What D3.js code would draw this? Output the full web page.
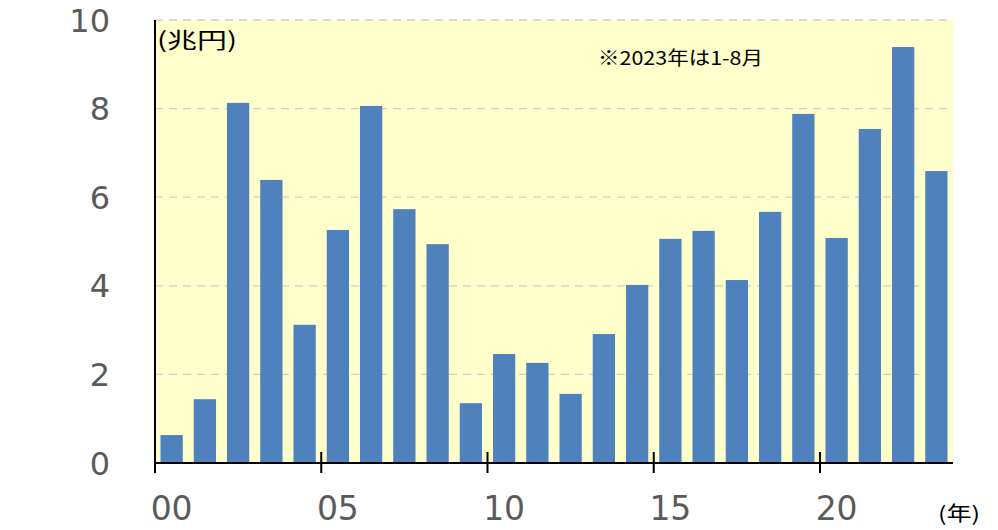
<!DOCTYPE html>
<html><head><meta charset="utf-8">
<script src="https://cdn.jsdelivr.net/npm/d3@7"></script>
<style>body{margin:0;background:#fff;}svg{display:block;}</style>
</head><body>
<svg id="c" width="998" height="530"></svg>
<script>
const years = ["00","01","02","03","04","05","06","07","08","09","10","11","12","13","14","15","16","17","18","19","20","21","22","23"];
const values = [0.63,1.44,8.13,6.39,3.12,5.26,8.06,5.73,4.94,1.35,2.46,2.26,1.56,2.91,4.02,5.06,5.24,4.13,5.67,7.88,5.08,7.54,9.39,6.59];
const yTicks = [0,2,4,6,8,10];
const xTickLabels = ["00","05","10","15","20"];
const unitLabel = "(兆円)";
const noteLabel = "※2023年は1-8月";
const xUnitLabel = "(年)";

const svg = d3.select("#c");
const L = 155, R = 953, T = 20, B = 463;
const x = d3.scaleBand().domain(years).range([L, R]).paddingInner(0.33).paddingOuter(0.165);
const y = d3.scaleLinear().domain([0, 10]).range([B, T]);
const step = x.step();

// background
svg.append("rect").attr("x", L).attr("y", T).attr("width", R - L).attr("height", B - T).attr("fill", "#ffffcc");

// gridlines
svg.append("g").selectAll("line").data(yTicks.filter(d => d > 0)).join("line")
  .attr("x1", L).attr("x2", R).attr("y1", d => y(d)).attr("y2", d => y(d))
  .attr("stroke", "#d6cccc").attr("stroke-width", 1.3).attr("stroke-dasharray", "8,6");

// bars
svg.append("g").selectAll("rect").data(values).join("rect")
  .attr("x", (d, i) => x(years[i])).attr("width", x.bandwidth())
  .attr("y", d => y(d)).attr("height", d => B - y(d))
  .attr("fill", "#4f81bd");

// y labels
svg.append("g").selectAll("text").data(yTicks).join("text")
  .attr("x", 110).attr("y", d => y(d)).attr("dy", "0.36em")
  .attr("text-anchor", "end").attr("font-family", "DejaVu Sans, Verdana, sans-serif")
  .attr("font-size", 32).attr("fill", "#5a5a5a").text(d => d);

// axes lines
svg.append("line").attr("x1", L).attr("x2", L).attr("y1", T).attr("y2", B + 1).attr("stroke", "#000").attr("stroke-width", 2);
svg.append("line").attr("x1", L - 1).attr("x2", R).attr("y1", B).attr("y2", B).attr("stroke", "#000").attr("stroke-width", 2);

// x ticks and labels
const tickPos = d => x(d) - x.paddingOuter() * step;
svg.append("g").selectAll("line").data(xTickLabels).join("line")
  .attr("x1", tickPos).attr("x2", tickPos)
  .attr("y1", (d, i) => i === 0 ? B : B - 11).attr("y2", B + 10)
  .attr("stroke", "#000").attr("stroke-width", 2);
svg.append("g").selectAll("text").data(xTickLabels).join("text")
  .attr("x", d => x(d) + x.bandwidth() / 2).attr("y", 520)
  .attr("text-anchor", "middle").attr("font-family", "DejaVu Sans, Verdana, sans-serif")
  .attr("font-size", 33).attr("fill", "#5a5a5a").text(d => d);

// annotations
svg.append("text").attr("x", 157).attr("y", 48).attr("font-family", "Noto Sans CJK JP, sans-serif")
  .attr("font-size", 22).attr("fill", "#000").attr("textLength", 80).attr("lengthAdjust", "spacingAndGlyphs").text(unitLabel);
svg.append("text").attr("x", 598).attr("y", 65).attr("font-family", "Noto Sans CJK JP, sans-serif")
  .attr("font-size", 19).attr("fill", "#000").attr("textLength", 165).attr("lengthAdjust", "spacingAndGlyphs").text(noteLabel);
svg.append("text").attr("x", 938).attr("y", 521).attr("font-family", "Noto Sans CJK JP, sans-serif")
  .attr("font-size", 20).attr("fill", "#000").attr("textLength", 42).attr("lengthAdjust", "spacingAndGlyphs").text(xUnitLabel);
</script>
</body></html>
